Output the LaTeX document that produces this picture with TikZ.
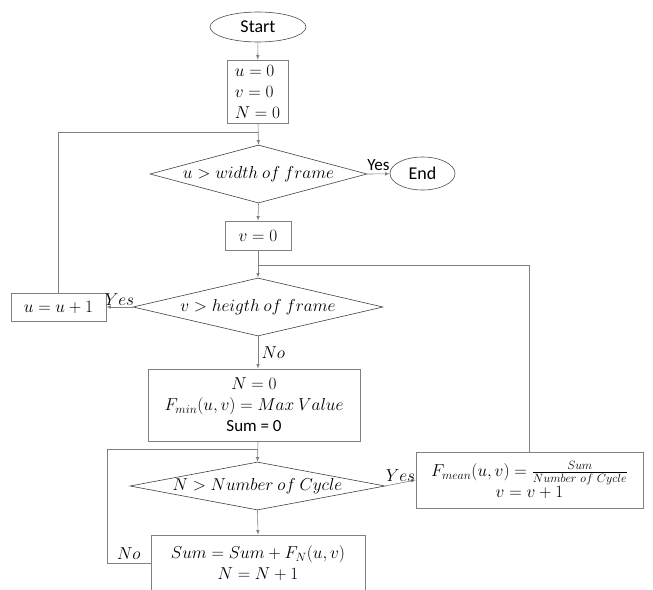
\documentclass[tikz,border=0pt]{standalone}
\usepackage{fontspec}
\setmainfont{Carlito}
\usetikzlibrary{positioning,shapes,arrows}

\begin{document}
\begin{tikzpicture}[x=1pt,y=-1pt,
  font=\fontsize{17}{21}\selectfont,
  line/.style={draw=gray, line width=0.6},
  flow/.style={line, -latex},
  box/.style={draw=gray, line width=0.6, rectangle, align=center, inner sep=1},
  term/.style={draw=black!70, line width=0.6, ellipse, inner sep=0, font=\fontsize{18}{21}\selectfont},
  decision/.style={draw=black!75, line width=0.6, diamond, inner sep=0}]
\clip (0,0) rectangle (653,589);

% start and set up
\node[term, minimum width=96, minimum height=30] (start) at (258,27) {Start};
\node[box, align=left, minimum width=61, minimum height=63] (b1) at (257.5,91.5) {$u=0$\\$v=0$\\$N=0$};
\node[decision, minimum width=217, minimum height=58, label=center:{$u>width\ of\ frame$}] (d1) at (258.5,174) {};
\node[term, minimum width=65, minimum height=33] (end) at (422.5,173.5) {End};
\node[box, minimum width=66, minimum height=29] (b2) at (258,235.5) {$v=0$};

% inner loop over v
\node[decision, minimum width=250, minimum height=58, label=center:{$v>heigth\ of\ frame$}] (d2) at (258,307) {};
\node[box, minimum width=95, minimum height=28] (u1) at (58.5,307) {$u=u+1$};
\node[box, minimum width=212, minimum height=72] (b3) at (254,405)
  {$N=0$\\$F_{min}(u,v)=Max\ Value$\\Sum = 0};

% cycle loop
\node[decision, minimum width=255, minimum height=48, label=center:{$N>Number\ of\ Cycle$}] (d3) at (257.5,486) {};
\node[box, minimum width=227, minimum height=56] (fm) at (529.5,480)
  {$F_{mean}(u,v)=\frac{Sum}{Number\ of\ Cycle}$\\$v=v+1$};
\node[box, minimum width=214, minimum height=56] (b4) at (258,563)
  {$Sum=Sum+F_N(u,v)$\\$N=N+1$};

\coordinate (j1) at (258,132);
\coordinate (j2) at (258,265);
\coordinate (j3) at (258,449);
\coordinate (k3) at (107,449);

\draw[flow] (start) -- (b1);
\draw[flow] (b1.south -| j1) -- (d1.north);
\draw[flow] (d1.east) -- node[above, inner sep=3]{Yes} (end);
\draw[flow] (d1.south) -- (b2.north);
\draw[flow] (b2.south) -- (d2.north);
\draw[flow] (d2.west) -- node[above, inner sep=1]{$Yes$} (u1.east);
\draw[line] (u1.north) |- (j1);
\draw[flow] (d2.south) -- node[right]{$No$} (b3.north -| d2.south);
\draw[flow] (b3.south -| j3) -- (d3.north);
\draw[flow] (d3.east) -- node[above, inner sep=1]{$Yes$} (fm.west);
\draw[line] (fm.north) |- (j2);
\draw[flow] (d3.south) -- (b4.north);
\draw[line] (b4.west) -| node[pos=0.25, above]{$No$} (k3) -- (j3);
\end{tikzpicture}
\end{document}
